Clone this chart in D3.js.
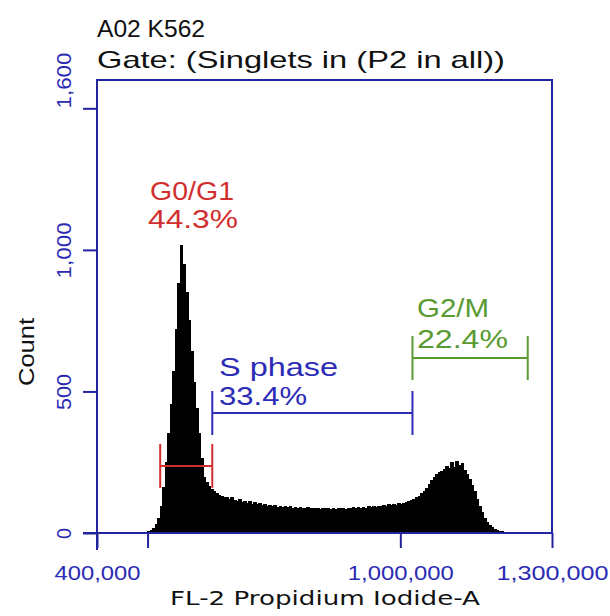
<!DOCTYPE html>
<html><head><meta charset="utf-8">
<script src="https://cdn.jsdelivr.net/npm/d3@7"></script>
<style>body{margin:0;background:#fff}svg{display:block}</style>
</head><body><svg id="c" width="610" height="616"></svg>
<script>
// ---- data ----
const titleLines = ["A02 K562", "Gate: (Singlets in (P2 in all))"];
const xLabel = "FL-2 Propidium Iodide-A";
const yLabel = "Count";
const binStart = 475000, binWidth = 5000;
const counts = [
  0,0,0,0,2,5,9,16,30,52,95,160,250,350,455,570,720,880,1015,950,
  850,750,640,530,440,350,262,195,178,163,152,145,138,133,130,127,124,120,126,116,
  113,119,108,112,104,110,101,106,99,103,97,100,95,98,93,96,91,94,90,92,
  89,93,88,91,87,90,88,86,89,87,85,88,86,84,87,85,88,84,86,83,
  87,85,88,84,86,85,89,86,90,87,91,88,92,89,94,90,95,92,97,94,
  99,96,100,98,103,101,104,107,110,114,118,124,130,138,147,158,170,184,196,205,
  212,218,224,236,228,248,232,252,238,246,222,208,190,168,145,118,95,72,52,38,
  27,19,13,9,6,4,3,2,1,0,0
];
const xTicks = [400000, 500000, 1000000, 1300000];
const xTickLabels = ["400,000", "", "1,000,000", "1,300,000"];
const yTicks = [0, 500, 1000, 1500];
const yLabelValues = [0, 500, 1000, 1600];
const yTickLabels = ["0", "500", "1,000", "1,600"];
const gateNames = ["G0/G1", "S phase", "G2/M"];
const gatePercents = ["44.3%", "33.4%", "22.4%"];
const gateStart = [525000, 628000, 1024000];
const gateEnd = [628000, 1024000, 1252000];
const gateLevel = [237, 424, 618];

// ---- drawing ----
const svg = d3.select("#c");
const x = d3.scaleLinear().domain([400000, 1300000]).range([97, 552]);
const y = d3.scaleLinear().domain([0, 1600]).range([533, 80]);
const axisCol = "#23239e", tickTextCol = "#2b2bb3";
const gateCols = ["#d12f2f", "#2c2cb6", "#5a9a33"];
const font = "'Liberation Sans', Arial, sans-serif";

// titles
svg.append("text").attr("x", 97).attr("y", 37).attr("font-family", font).attr("font-size", 24)
  .attr("fill", "#111").attr("textLength", 108).attr("lengthAdjust", "spacingAndGlyphs").text(titleLines[0]);
svg.append("text").attr("x", 97).attr("y", 68).attr("font-family", font).attr("font-size", 24)
  .attr("fill", "#111").attr("textLength", 408).attr("lengthAdjust", "spacingAndGlyphs").text(titleLines[1]);

// histogram
const pts = counts.map((c, i) => ({x: binStart + i * binWidth, c}));
pts.push({x: binStart + counts.length * binWidth, c: 0});
const area = d3.area().x(d => x(d.x)).y0(y(0)).y1(d => y(d.c)).curve(d3.curveStepAfter);
svg.append("path").datum(pts).attr("d", area).attr("fill", "#000")
  .attr("stroke", "#000").attr("stroke-width", 1).attr("shape-rendering", "crispEdges");

// frame
svg.append("path").attr("d", `M${x(400000)},${y(0)+17}V${y(1600)}H${x(1300000)}V${y(0)}H${x(400000)-14}`)
  .attr("fill", "none").attr("stroke", axisCol).attr("stroke-width", 2);

// x axis
const gx = svg.append("g").attr("transform", `translate(0,${y(0)})`)
  .call(d3.axisBottom(x).tickValues(xTicks).tickSize(15).tickSizeOuter(0).tickFormat((d, i) => xTickLabels[i]));
gx.select(".domain").remove();
gx.selectAll(".tick line").attr("stroke", axisCol).attr("stroke-width", 2);
gx.selectAll(".tick text").attr("y", 47).attr("dy", null).attr("fill", tickTextCol)
  .attr("font-family", font).attr("font-size", 20)
  .attr("textLength", (d, i) => [86, 0, 106, 112][i]).attr("lengthAdjust", "spacingAndGlyphs");

// y axis ticks
const gy = svg.append("g").attr("transform", `translate(${x(400000)},0)`)
  .call(d3.axisLeft(y).tickValues(yTicks).tickSize(14).tickSizeOuter(0).tickFormat(""));
gy.select(".domain").remove();
gy.selectAll(".tick line").attr("stroke", axisCol).attr("stroke-width", 2);
// y labels
const gyl = svg.append("g").attr("transform", `translate(${x(400000)},0)`)
  .call(d3.axisLeft(y).tickValues(yLabelValues).tickSize(0).tickSizeOuter(0).tickFormat((d, i) => yTickLabels[i]));
gyl.select(".domain").remove();
gyl.selectAll(".tick text").attr("x", null).attr("dy", null).attr("text-anchor", "middle")
  .attr("transform", "translate(-26,0) rotate(-90)").attr("fill", tickTextCol)
  .attr("font-family", font).attr("font-size", 21)
  .attr("textLength", (d, i) => [11, 36, 56, 56][i]).attr("lengthAdjust", "spacingAndGlyphs");

// axis titles
svg.append("text").attr("transform", "translate(34,352) rotate(-90)").attr("text-anchor", "middle")
  .attr("font-family", font).attr("font-size", 22).attr("fill", "#111")
  .attr("textLength", 68).attr("lengthAdjust", "spacingAndGlyphs").text(yLabel);
svg.append("text").attr("x", 325).attr("y", 605).attr("text-anchor", "middle")
  .attr("font-family", "'DejaVu Sans', Verdana, sans-serif").attr("font-size", 19).attr("fill", "#111")
  .attr("textLength", 310).attr("lengthAdjust", "spacingAndGlyphs").text(xLabel);

// gates
const labelPos = [[150, 200, 228], [219, 376, 405], [417, 317, 348]];
const nameLen = [84, 119, 72], pctLen = [90, 88, 91];
gateNames.forEach((name, i) => {
  const g = svg.append("g").attr("stroke", gateCols[i]).attr("stroke-width", 2);
  const yy = y(gateLevel[i]);
  g.append("line").attr("x1", x(gateStart[i])).attr("x2", x(gateEnd[i])).attr("y1", yy).attr("y2", yy);
  g.append("line").attr("x1", x(gateStart[i])).attr("x2", x(gateStart[i])).attr("y1", yy - 22).attr("y2", yy + 22);
  g.append("line").attr("x1", x(gateEnd[i])).attr("x2", x(gateEnd[i])).attr("y1", yy - 22).attr("y2", yy + 22);
  const [lx, b1, b2] = labelPos[i];
  svg.append("text").attr("x", lx).attr("y", b1).attr("font-family", font).attr("font-size", 26)
    .attr("fill", gateCols[i]).attr("textLength", nameLen[i]).attr("lengthAdjust", "spacingAndGlyphs").text(name);
  svg.append("text").attr("x", lx - (i === 0 ? 2 : 0)).attr("y", b2).attr("font-family", font).attr("font-size", 26)
    .attr("fill", gateCols[i]).attr("textLength", pctLen[i]).attr("lengthAdjust", "spacingAndGlyphs").text(gatePercents[i]);
});
</script></body></html>
